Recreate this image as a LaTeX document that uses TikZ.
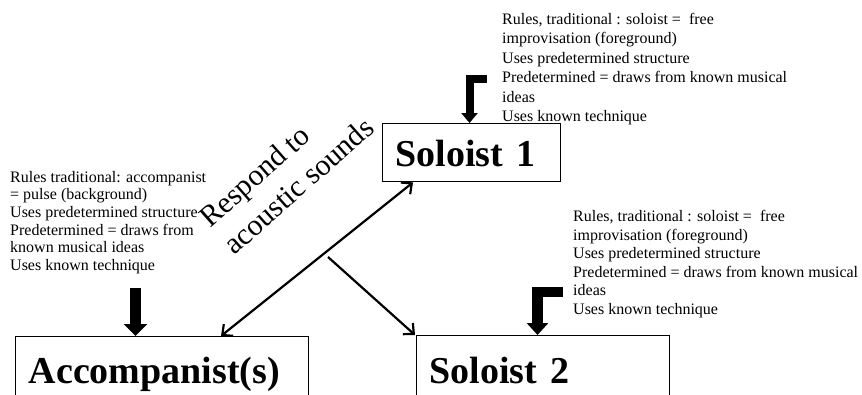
\documentclass[tikz,border=0pt]{standalone}
\usepackage{fontspec}
\setmainfont{Liberation Serif}
\usetikzlibrary{arrows.meta,calc}
\begin{document}
\begin{tikzpicture}[x=1pt,y=-1pt,
  box/.style={draw, line width=1.4pt, anchor=north west, inner xsep=13pt, inner ysep=0pt,
    align=left, font=\fontsize{38}{40}\selectfont\bfseries},
  note/.style={anchor=north west, inner sep=0pt, align=left},
  tip/.style={Straight Barb[length=8pt,width=15pt,line width=2pt]},
  link/.style={line width=2.2pt, -{Straight Barb[length=8pt,width=15pt]}},
  heavy/.style={line join=miter, draw=black}
]
\useasboundingbox (0,0) rectangle (862,394);
\clip (0,0) rectangle (862,394);

% boxes
\node[box, text width=267pt, text height=47pt, text depth=60pt] (acc) at (15,336) {Accompanist(s)};
\node[box, text width=152pt, text height=43pt, text depth=15pt] (s1) at (382,123) {Soloist 1};
\node[box, text width=227pt, text height=48pt, text depth=60pt] (s2) at (416,335) {Soloist 2};

% notes
\node[note, font=\fontsize{16}{17.6}\selectfont] (accnote) at (10,171)
  {Rules traditional: accompanist\\= pulse (background)\\Uses predetermined structure\\Predetermined = draws from\\known musical ideas\\Uses known technique};
\node[note, font=\fontsize{16}{19.4}\selectfont] (s1note) at (502,13)
  {Rules, traditional : soloist = \ free\\improvisation (foreground)\\Uses predetermined structure\\Predetermined = draws from known musical\\ideas\\Uses known technique};
\node[note, font=\fontsize{16}{18.6}\selectfont] (s2note) at (573,210)
  {Rules, traditional : soloist = \ free\\improvisation (foreground)\\Uses predetermined structure\\Predetermined = draws from known musical\\ideas\\Uses known technique};

% rotated label
\node[note, rotate=41.5, font=\fontsize{30}{36.5}\selectfont] (respond) at (196,213)
  {Respond to\\acoustic sounds};

% thick arrows
\coordinate (accIn) at (135.5,288);
\draw[heavy, line width=11pt, -{Triangle[length=12pt,width=23pt]}] (accIn) -- (accIn |- acc.north);
\coordinate (s1In) at (487,79);
\draw[heavy, line width=8pt, -{Triangle[length=10pt,width=16pt]}] (s1In) -| ([xshift=87.5pt]s1.north west);
\coordinate (s2In) at (563,292);
\draw[heavy, line width=10.5pt, -{Triangle[length=12pt,width=21pt]}] (s2In) -| ([xshift=121.5pt]s2.north west);

% connectors
\draw[link, {Straight Barb[length=8pt,width=15pt]}-{Straight Barb[length=8pt,width=15pt]}]
  ([xshift=206pt]acc.north west) -- ([xshift=31pt]s1.south west);
\coordinate (branch) at (328,257);
\draw[link] (branch) -- ([xshift=-1pt]s2.north west);
\end{tikzpicture}
\end{document}
